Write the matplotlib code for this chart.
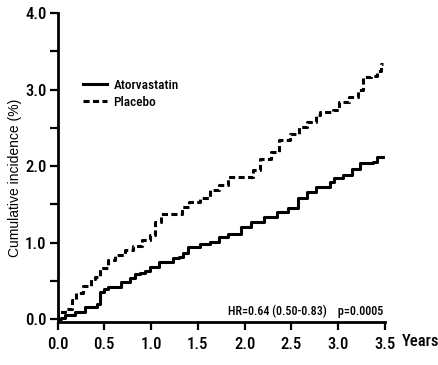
import numpy as np
import matplotlib.pyplot as plt

# curves (years, cumulative incidence %)
atorYears = [0.0, 0.04, 0.08, 0.19, 0.29, 0.42, 0.45, 0.5, 0.54, 0.68, 0.77, 0.83, 0.88, 0.93,
             0.99, 1.09, 1.23, 1.3, 1.34, 1.39, 1.52, 1.63, 1.73, 1.82, 1.96, 2.07, 2.21, 2.35,
             2.46, 2.57, 2.67, 2.76, 2.91, 2.96, 3.05, 3.15, 3.23, 3.37, 3.41, 3.5]
atorValues = [0.0, 0.02, 0.05, 0.1, 0.16, 0.2, 0.36, 0.4, 0.42, 0.49, 0.54, 0.59, 0.6, 0.63,
              0.68, 0.75, 0.8, 0.81, 0.86, 0.95, 0.98, 1.01, 1.08, 1.12, 1.21, 1.27, 1.34, 1.4,
              1.45, 1.58, 1.66, 1.73, 1.79, 1.84, 1.88, 1.97, 2.04, 2.06, 2.12, 2.12]

placYears = [0.0, 0.01, 0.08, 0.15, 0.2, 0.27, 0.36, 0.4, 0.45, 0.54, 0.61, 0.72, 0.81, 0.9,
             0.99, 1.04, 1.11, 1.23, 1.33, 1.41, 1.52, 1.63, 1.73, 1.82, 1.98, 2.09, 2.16, 2.28,
             2.37, 2.49, 2.58, 2.67, 2.76, 2.8, 2.94, 3.01, 3.12, 3.21, 3.26, 3.35, 3.41, 3.46,
             3.48]
placValues = [0.0, 0.1, 0.14, 0.25, 0.34, 0.44, 0.53, 0.55, 0.67, 0.77, 0.84, 0.9, 0.96, 1.04,
              1.1, 1.27, 1.37, 1.37, 1.47, 1.53, 1.58, 1.69, 1.75, 1.86, 1.86, 1.95, 2.1, 2.19,
              2.34, 2.42, 2.51, 2.58, 2.67, 2.71, 2.73, 2.84, 2.91, 2.99, 3.17, 3.18, 3.25, 3.34,
              3.34]

labels = ['Atorvastatin', 'Placebo']
hrText = 'HR=0.64 (0.50-0.83)    p=0.0005'
xTicks = [0.0, 0.5, 1.0, 1.5, 2.0, 2.5, 3.0, 3.5]
yTicks = [0.0, 1.0, 2.0, 3.0, 4.0]

plt.rcParams['font.family'] = ['Roboto Condensed', 'Liberation Sans', 'DejaVu Sans']

fig = plt.figure(figsize=(4.39, 3.65), dpi=100)
ax = fig.add_axes([0.131, 0.119, 0.746, 0.845])

ax.plot(atorYears, atorValues, drawstyle='steps-post', color='black', lw=2.2, label=labels[0])
ax.plot(placYears, placValues, drawstyle='steps-post', color='black', lw=2.2,
        linestyle=(0, (2.0, 1.1)), label=labels[1])

ax.set_xlim(0, 3.5)
ax.set_ylim(-0.03, 4.0)
ax.set_xticks(xTicks)
ax.set_xticklabels([f'{v:.1f}' for v in xTicks], fontweight='medium')
ax.set_yticks(yTicks)
ax.set_yticklabels([f'{v:.1f}' for v in yTicks], fontweight='medium')
ax.set_yticks([0.5, 1.5, 2.5, 3.5], minor=True)

for s in ['top', 'right']:
    ax.spines[s].set_visible(False)
for s in ['left', 'bottom']:
    ax.spines[s].set_linewidth(2)
ax.tick_params(axis='both', which='both', direction='out', width=1.6, length=6,
               labelsize=12, pad=2)
ax.tick_params(axis='x', pad=5)

ax.set_ylabel('Cumulative incidence (%)', fontsize=10, family=['Liberation Sans', 'DejaVu Sans'])
ax.yaxis.set_label_coords(-0.108, 0.465)

leg = ax.legend(loc='upper left', bbox_to_anchor=(0.078, 0.787), frameon=False, fontsize=9.5,
                handlelength=1.8, handletextpad=0.5, labelspacing=0.3, borderpad=0,
                borderaxespad=0)
for t in leg.get_texts():
    t.set_fontweight('medium')

ax.text(0.994, 0.012, hrText, transform=ax.transAxes, ha='right', va='bottom', fontsize=8.7,
        fontweight='medium')
fig.text(402 / 439, 1 - 341 / 365, 'Years', ha='left', va='center', fontsize=12,
         fontweight='medium')

fig.savefig('out.png', dpi=100)
